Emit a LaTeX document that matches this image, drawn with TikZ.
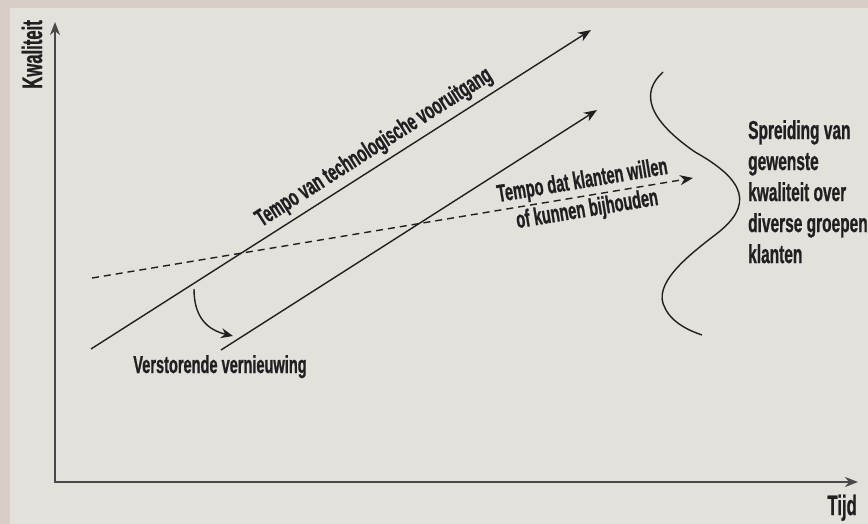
\documentclass[tikz,border=0pt]{standalone}
\usepackage{fontspec}
\setmainfont[FakeStretch=0.595, BoldFeatures={FakeBold=0.8}]{Liberation Sans}
\usetikzlibrary{arrows.meta}
\definecolor{outerbg}{HTML}{D6CEC7}
\definecolor{innerbg}{HTML}{E4E0DC}
\definecolor{ink}{HTML}{231F20}
\definecolor{axisgray}{HTML}{4A4848}
\tikzset{
  lbl/.style={text=ink, font=\bfseries\fontsize{24.5}{29}\selectfont, inner sep=0pt},
  axlbl/.style={text=ink, font=\bfseries\fontsize{28}{30}\selectfont, inner sep=0pt},
  axisline/.style={draw=axisgray, line width=2pt, arrows={Stealth[length=13pt,width=10pt,inset=4pt]-Stealth[length=13pt,width=10pt,inset=4pt]}},
  trend/.style={draw=ink, line width=1.4pt, -{Stealth[length=13pt,width=10pt,inset=4pt]}},
  dashtrend/.style={trend, dash pattern=on 7pt off 5pt},
  curve/.style={draw=ink, line width=1.4pt}
}
\begin{document}
\begin{tikzpicture}[x=1pt,y=-1pt]
\useasboundingbox (0,0) rectangle (868,524);
\fill[outerbg] (0,0) rectangle (868,524);
\fill[innerbg] (10,8) rectangle (868,524);
% axes
\coordinate (ytip) at (55,22);
\coordinate (origin) at (55,482);
\coordinate (xtip) at (858,482);
\draw[axisline] (ytip) -- (origin) -- (xtip);
\node[axlbl, rotate=90, anchor=base east] (kw) at (42,20) {Kwaliteit};
\node[axlbl, anchor=base east] (tijd) at (857,515) {Tijd};
% technology line
\coordinate (t1a) at (91,349);
\coordinate (t1b) at (591,30);
\draw[trend] (t1a) -- (t1b) node[lbl, pos=0.585, sloped, above, inner sep=5pt] (techlbl) {Tempo van technologische vooruitgang};
% second line
\coordinate (t2a) at (221,350);
\coordinate (t2b) at (597,110);
\draw[trend] (t2a) -- (t2b);
% customer line
\coordinate (ca) at (92,278);
\coordinate (cb) at (693,178);
\draw[dashtrend] (ca) -- (cb) node[lbl, pos=0.82, sloped, align=center] (custlbl) {Tempo dat klanten willen\\of kunnen bijhouden};
% disruptive arrow
\coordinate (da) at (194,289);
\coordinate (db) at (233,336);
\draw[curve, -{Stealth[length=12pt,width=10pt,inset=4pt]}] (da) .. controls (194,318) and (208,330) .. (db);
\node[lbl, anchor=base] (verst) at (220,373) {Verstorende vernieuwing};
% spread curve
\coordinate (sa) at (663,72);
\coordinate (sb) at (702,335);
\draw[curve] (sa) .. controls (641,92) and (646,118) .. (695,152)
  .. controls (745,180) and (755,205) .. (715,235)
  .. controls (685,258) and (652,285) .. (665,308)
  .. controls (672,323) and (690,331) .. (sb);
\node[text=ink, font=\bfseries\fontsize{26}{31}\selectfont, inner sep=0pt, align=left, anchor=north west] (spread) at (748,120) {Spreiding van\\gewenste\\kwaliteit over\\diverse groepen\\klanten};
\end{tikzpicture}
\end{document}
